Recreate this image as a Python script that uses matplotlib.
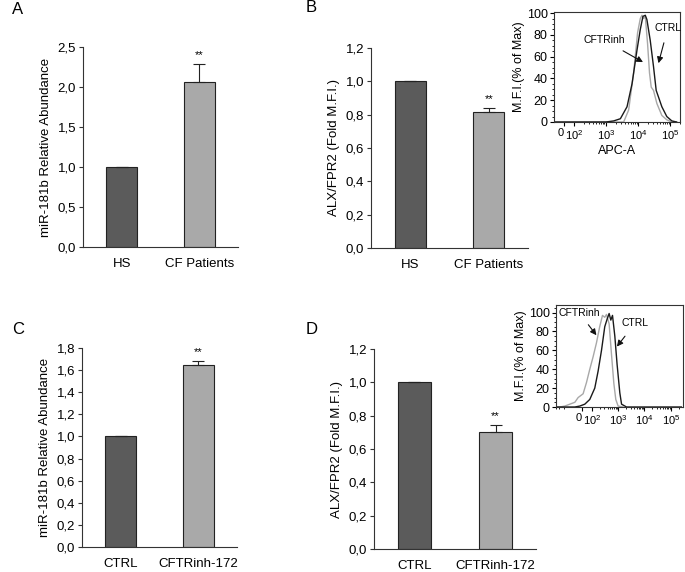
import matplotlib
matplotlib.use("Agg")
import matplotlib.pyplot as plt
from matplotlib.ticker import SymmetricalLogLocator, AutoMinorLocator, NullFormatter

plt.rcParams['font.family'] = ['Liberation Sans', 'DejaVu Sans']
plt.rcParams['mathtext.fontset'] = 'custom'
plt.rcParams['mathtext.rm'] = 'Liberation Sans'

# bar panels
a_groups = ['HS', 'CF Patients']
a_values = [1.0, 2.06]
a_err = [0, 0.23]

b_groups = ['HS', 'CF Patients']
b_values = [1.0, 0.815]
b_err = [0, 0.025]

c_groups = ['CTRL', 'CFTRinh-172']
c_values = [1.0, 1.645]
c_err = [0, 0.04]

d_groups = ['CTRL', 'CFTRinh-172']
d_values = [1.0, 0.70]
d_err = [0, 0.045]

# flow histograms (APC-A, % of max)
b_ctrl_x = [-100, 1000, 1746, 2818, 4550, 6510, 9310, 11800, 14300, 16900, 19000,
            24100, 30500, 37000, 43600, 55600, 79400, 114000, 160000]
b_ctrl_y = [0, 0, 1, 3, 14, 35, 66, 85, 97, 98, 94, 75, 51, 29, 23, 14, 5, 1, 0]
b_inh_x = [-100, 3570, 5110, 7300, 9720, 11800, 13300, 14900, 16900, 19900, 22900,
           25900, 30500, 38900, 55600, 79400, 114000, 160000]
b_inh_y = [0, 0, 11, 45, 82, 95, 98, 95, 97, 72, 45, 32, 29, 17, 6, 2, 0, 0]

d_ctrl_x = [-400, -70, -20, 30, 80, 130, 174, 234, 311, 382, 456, 528, 612, 750,
            915, 1160, 1350, 2080, 250000]
d_ctrl_y = [0, 0, 1, 3, 8, 20, 38, 60, 85, 93, 99, 92, 97, 75, 45, 15, 3, 0, 0]
d_inh_x = [-400, -286, -185, -119, -70, -37, 13, 47, 80, 112, 151, 200, 255, 311,
           362, 456, 563, 688, 816, 1000, 1550]
d_inh_y = [0, 0, 1, 3, 5, 10, 14, 26, 40, 53, 68, 85, 97, 95, 98, 88, 55, 25, 8, 1, 0]

flow_ticks = [0, 100, 1000, 10000, 100000]
flow_labels = ['0', r'$\mathregular{10^2}$', r'$\mathregular{10^3}$',
               r'$\mathregular{10^4}$', r'$\mathregular{10^5}$']

W, H = 685, 572
fig = plt.figure(figsize=(W / 100, H / 100), dpi=100)


def px_axes(left, top, right, bottom):
    return fig.add_axes([left / W, 1 - bottom / H, (right - left) / W, (bottom - top) / H])


def bar_panel(ax, groups, values, errs, ymax, step, ylabel):
    x = range(len(groups))
    ax.bar(x, values, width=0.4, color=['#5b5b5b', '#a9a9a9'], edgecolor='#222222',
           linewidth=0.8, yerr=[[0] * len(errs), errs],
           error_kw=dict(ecolor='#222222', elinewidth=0.8, capsize=4, capthick=0.8))
    top = values[1] + errs[1]
    ax.text(1, top + ymax * 0.02, '**', ha='center', va='bottom', fontsize=8)
    ax.set_xlim(-0.5, 1.5)
    ax.set_ylim(0, ymax)
    ticks = [i * step for i in range(int(round(ymax / step)) + 1)]
    ax.set_yticks(ticks)
    ax.set_yticklabels([f'{t:.1f}'.replace('.', ',') for t in ticks], fontsize=9.5)
    ax.set_xticks(list(x))
    ax.set_xticklabels(groups, fontsize=9.5)
    ax.tick_params(axis='x', length=0, pad=8)
    ax.tick_params(axis='y', length=3, width=0.8, color='#333333', pad=2)
    for s in ['top', 'right']:
        ax.spines[s].set_visible(False)
    for s in ['left', 'bottom']:
        ax.spines[s].set_linewidth(0.8)
        ax.spines[s].set_color('#333333')
    ax.set_ylabel(ylabel, fontsize=9.5, labelpad=4)


def flow_panel(ax, ctrl_x, ctrl_y, inh_x, inh_y, linthresh_scale, xlim, ylim):
    ax.plot(inh_x, inh_y, color='#a8a8a8', lw=1.0)
    ax.plot(ctrl_x, ctrl_y, color='#1a1a1a', lw=1.0)
    ax.set_xscale('symlog', linthresh=100, linscale=linthresh_scale)
    ax.set_xlim(*xlim)
    ax.set_ylim(*ylim)
    ax.set_xticks(flow_ticks)
    ax.set_xticklabels(flow_labels, fontsize=8)
    ax.get_xticklabels()[0].set_horizontalalignment('right')
    ax.xaxis.set_minor_locator(SymmetricalLogLocator(linthresh=100, base=10, subs=range(2, 10)))
    ax.xaxis.set_minor_formatter(NullFormatter())
    ax.set_yticks([0, 20, 40, 60, 80, 100])
    ax.set_yticklabels(['0', '20', '40', '60', '80', '100'], fontsize=9)
    ax.yaxis.set_minor_locator(AutoMinorLocator(4))
    ax.tick_params(which='major', length=3, width=0.8, pad=1.5)
    ax.tick_params(which='minor', length=1.5, width=0.6)
    for s in ax.spines.values():
        s.set_linewidth(0.8)
        s.set_color('#333333')
    ax.set_ylabel('M.F.I.(% of Max)', fontsize=9, labelpad=1)


axA = px_axes(83, 47, 238, 247)
bar_panel(axA, a_groups, a_values, a_err, 2.5, 0.5, 'miR-181b Relative Abundance')
axB = px_axes(371, 48, 528, 248)
bar_panel(axB, b_groups, b_values, b_err, 1.2, 0.2, 'ALX/FPR2 (Fold M.F.I.)')
axC = px_axes(82, 348, 237, 547)
bar_panel(axC, c_groups, c_values, c_err, 1.8, 0.2, 'miR-181b Relative Abundance')
axD = px_axes(374, 349, 536, 549)
bar_panel(axD, d_groups, d_values, d_err, 1.2, 0.2, 'ALX/FPR2 (Fold M.F.I.)')

insB = px_axes(554, 12, 680, 122)
flow_panel(insB, b_ctrl_x, b_ctrl_y, b_inh_x, b_inh_y, 0.28, (-100, 2.05e5), (0, 101))
insB.set_xlabel('APC-A', fontsize=9, labelpad=2)
insB.annotate('CFTRinh', xy=(14300, 55), xytext=(900, 75), fontsize=7.5, ha='center',
              va='center', arrowprops=dict(arrowstyle='-|>', color='#111111', lw=0.8,
                                           mutation_scale=9, shrinkA=4, shrinkB=0))
insB.annotate('CTRL', xy=(43600, 54), xytext=(85000, 86), fontsize=7.5, ha='center',
              va='center', arrowprops=dict(arrowstyle='-|>', color='#111111', lw=0.8,
                                           mutation_scale=9, shrinkA=5, shrinkB=0))

insD = px_axes(556, 305, 683, 407)
flow_panel(insD, d_ctrl_x, d_ctrl_y, d_inh_x, d_inh_y, 0.34, (-400, 2.9e5), (0, 108))
insD.annotate('CFTRinh', xy=(150, 76), xytext=(-330, 100), fontsize=7.5, ha='left',
              va='center', arrowprops=dict(arrowstyle='-|>', color='#111111', lw=0.8,
                                           mutation_scale=9, shrinkA=4, shrinkB=0))
insD.annotate('CTRL', xy=(900, 64), xytext=(4500, 89), fontsize=7.5, ha='center',
              va='center', arrowprops=dict(arrowstyle='-|>', color='#111111', lw=0.8,
                                           mutation_scale=9, shrinkA=5, shrinkB=0))

for label, x, y in [('A', 12, 10), ('B', 306, 8), ('C', 12, 330), ('D', 306, 330)]:
    fig.text(x / W, 1 - y / H, label, fontsize=12, ha='left', va='center')

fig.savefig('out.png', dpi=100)
